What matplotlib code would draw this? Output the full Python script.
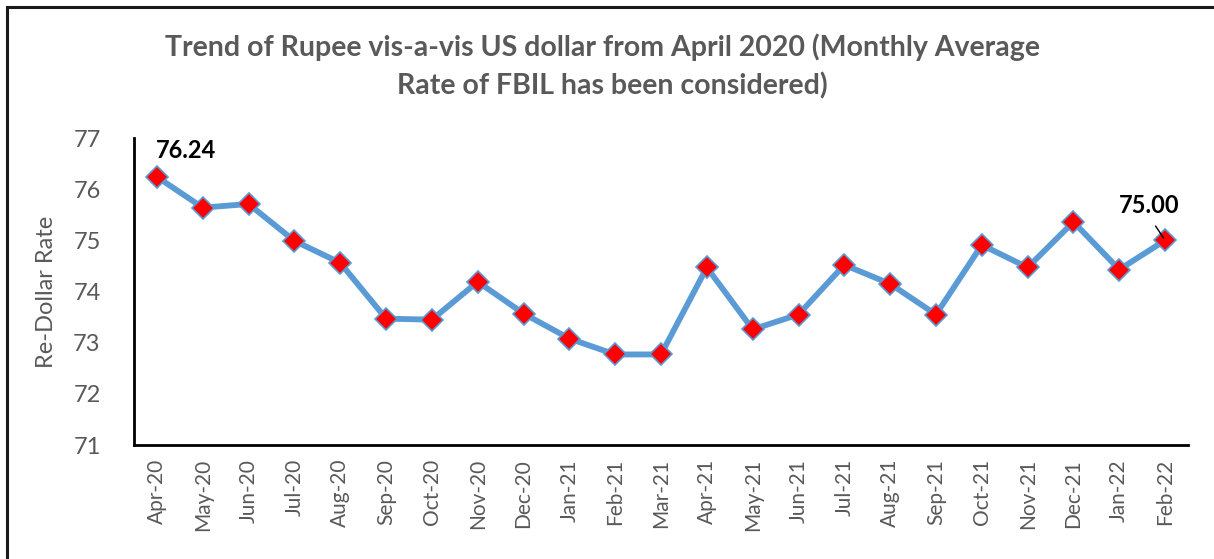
import matplotlib.pyplot as plt
from matplotlib.patches import Rectangle

# monthly average FBIL rate
months = ['Apr-20', 'May-20', 'Jun-20', 'Jul-20', 'Aug-20', 'Sep-20', 'Oct-20', 'Nov-20',
          'Dec-20', 'Jan-21', 'Feb-21', 'Mar-21', 'Apr-21', 'May-21', 'Jun-21', 'Jul-21',
          'Aug-21', 'Sep-21', 'Oct-21', 'Nov-21', 'Dec-21', 'Jan-22', 'Feb-22']
rates = [76.24, 75.64, 75.71, 74.99, 74.56, 73.47, 73.45, 74.19,
         73.57, 73.08, 72.77, 72.77, 74.47, 73.26, 73.55, 74.52,
         74.15, 73.55, 74.91, 74.47, 75.36, 74.43, 75.00]
y_ticks = [71, 72, 73, 74, 75, 76, 77]

plt.rcParams['font.family'] = ['Lato', 'DejaVu Sans']
grey = '#595959'
blue = '#5B9BD5'

fig = plt.figure(figsize=(12.14, 5.59), dpi=100)
ax = fig.add_axes([0.1104, 0.2039, 0.8682, 0.5492])

x = list(range(len(months)))
ax.plot(x, rates, color=blue, linewidth=4.2, marker='D', markersize=11,
        markerfacecolor='red', markeredgecolor=blue, markeredgewidth=1.2, zorder=3)

ax.set_xlim(-0.5, len(months) - 0.5)
ax.set_ylim(71, 77)
ax.set_yticks(y_ticks)
ax.set_yticklabels([str(t) for t in y_ticks], fontsize=17, color=grey)
ax.set_xticks(x)
ax.set_xticklabels(months, rotation=90, fontsize=15, color=grey)
ax.tick_params(axis='y', length=0, pad=24)
ax.tick_params(axis='x', length=0, pad=10)

for side in ['top', 'right']:
    ax.spines[side].set_visible(False)
for side in ['left', 'bottom']:
    ax.spines[side].set_linewidth(2)
    ax.spines[side].set_color('black')

ax.set_ylabel('Re-Dollar Rate', fontsize=17, color=grey, labelpad=12)

# data labels: first and last point
lbl = dict(fontsize=17, fontweight='bold', color='black')
ax.annotate(f'{rates[0]:.2f}', xy=(x[0], rates[0]), xytext=(-1, 11), textcoords='offset points',
            ha='left', va='bottom', **lbl)
ax.annotate(f'{rates[-1]:.2f}', xy=(x[-1], rates[-1]), xytext=(-33, 17), textcoords='offset points',
            ha='left', va='bottom', **lbl)
ax.annotate('', xy=(x[-1], rates[-1]), xytext=(-8, 12), textcoords='offset points',
            arrowprops=dict(arrowstyle='-', color='black', lw=1))

fig.text(0.496, 0.915, 'Trend of Rupee vis-a-vis US dollar from April 2020 (Monthly Average',
         ha='center', va='center', fontsize=20.5, fontweight='bold', color=grey)
fig.text(0.504, 0.847, 'Rate of FBIL has been considered)',
         ha='center', va='center', fontsize=20.5, fontweight='bold', color=grey)

# chart border (only top and left edges visible in the crop)
fig.patches.append(Rectangle((7 / 1214, -0.5), 2, 1.5 - 7 / 559, transform=fig.transFigure,
                             fill=False, edgecolor='#1a1a1a', linewidth=2.2, clip_on=False))

fig.savefig('out.png', dpi=100)
